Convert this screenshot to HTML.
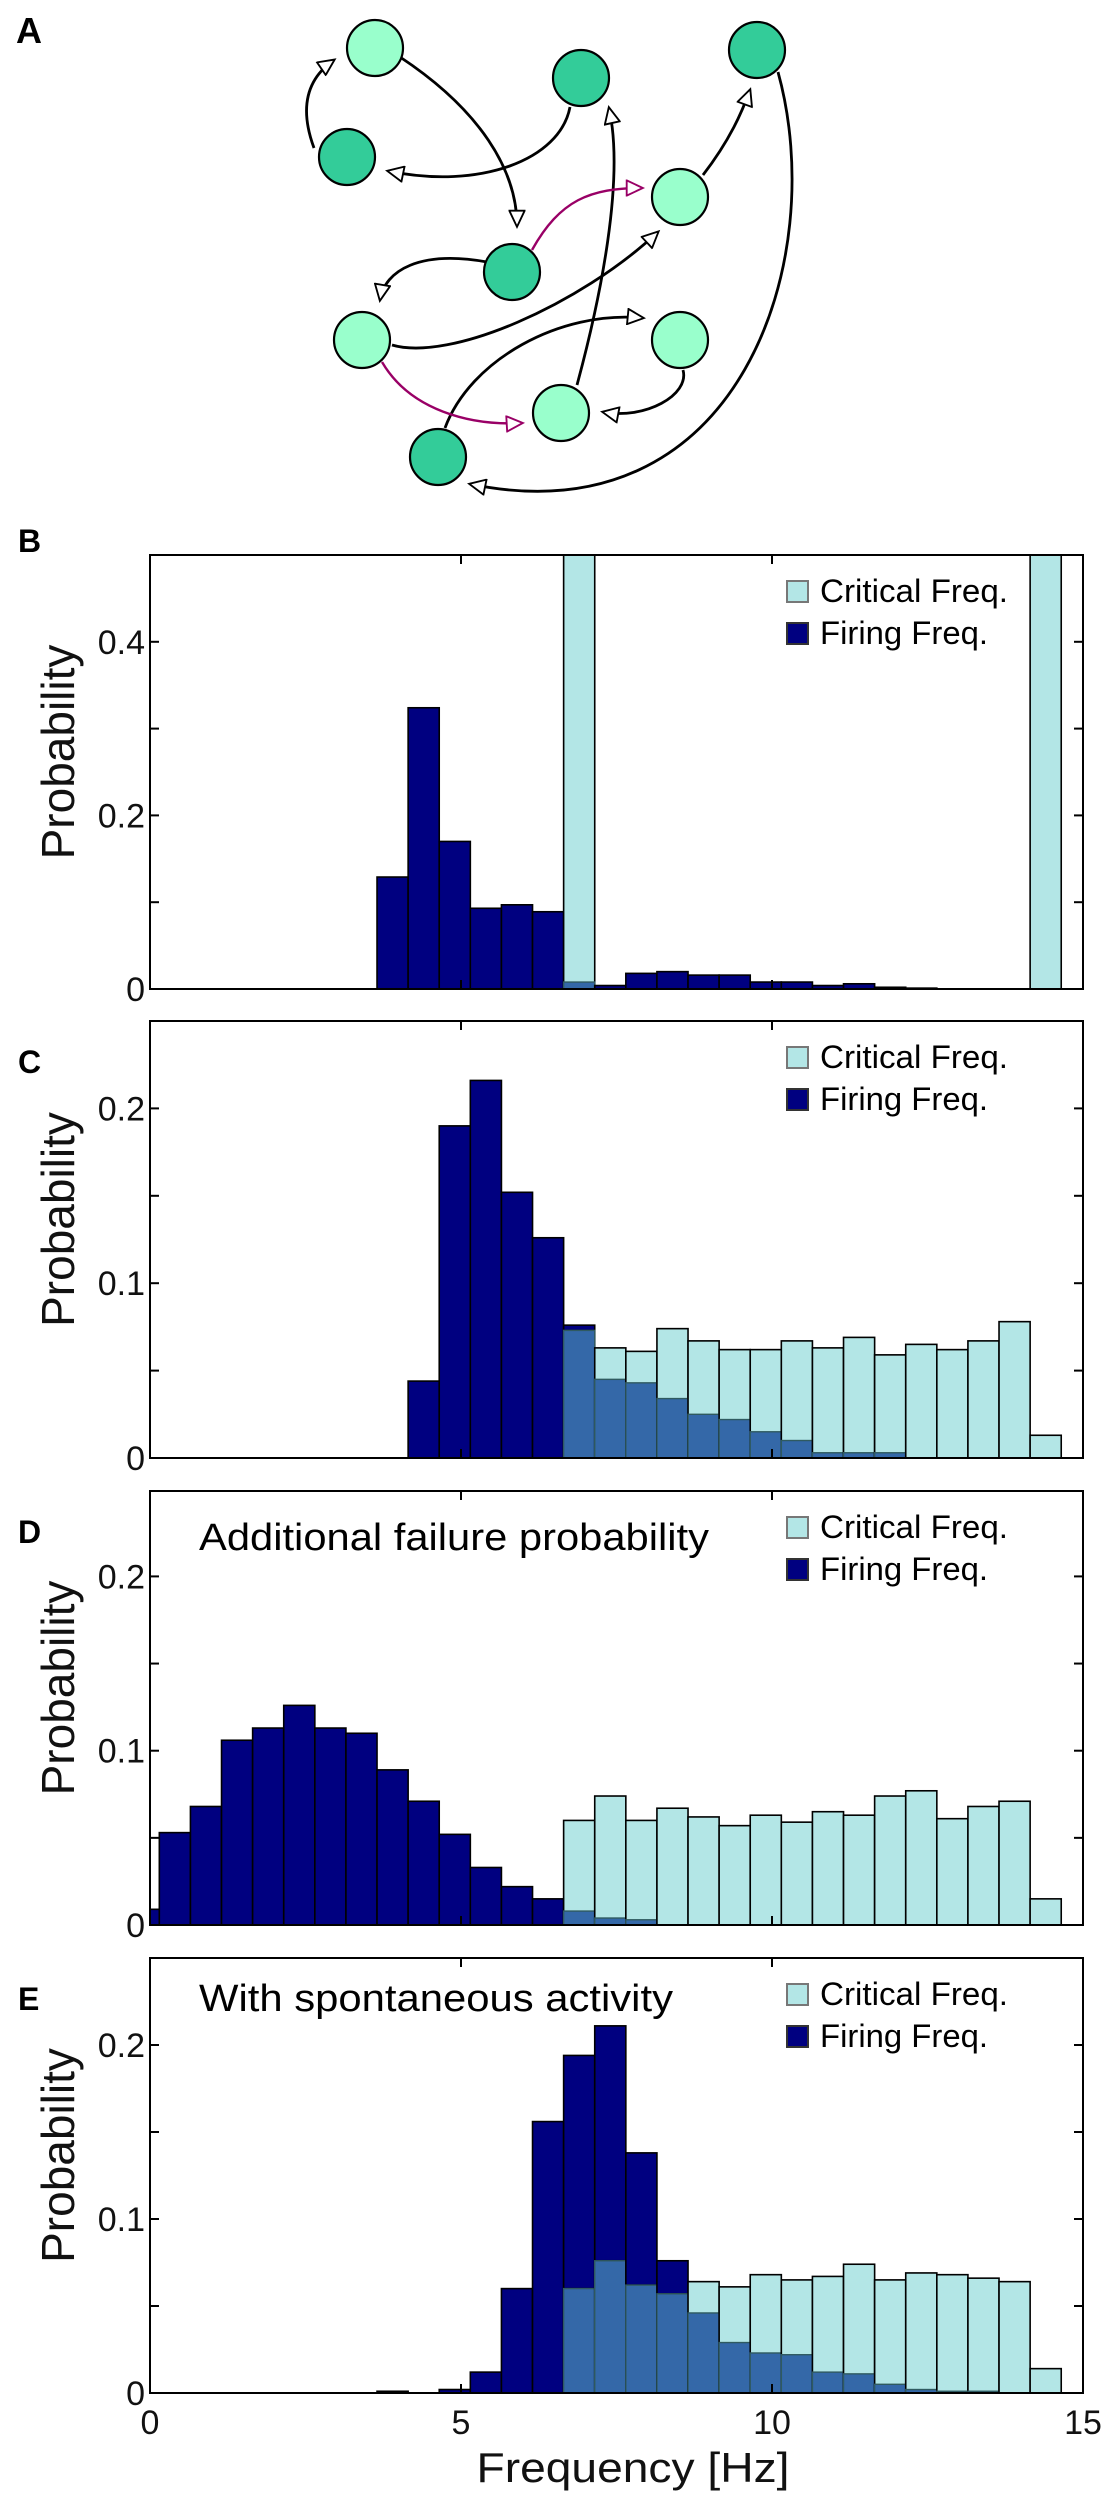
<!DOCTYPE html>
<html><head><meta charset="utf-8"><style>
html,body{margin:0;padding:0;background:#fff;}
svg{display:block;font-family:"Liberation Sans",Arial,sans-serif;}
</style></head><body>
<svg id="fig" width="1109" height="2500" viewBox="0 0 1109 2500" xmlns="http://www.w3.org/2000/svg">
<defs>
<marker id="arrK" viewBox="0 0 10 10" refX="9" refY="5" markerUnits="userSpaceOnUse" markerWidth="22" markerHeight="17" orient="auto"><path d="M0,0.5 L9.5,5 L0,9.5 z" fill="#fff" stroke="#000" stroke-width="1.1"/></marker>
<marker id="arrM" viewBox="0 0 10 10" refX="9" refY="5" markerUnits="userSpaceOnUse" markerWidth="22" markerHeight="17" orient="auto"><path d="M0,0.5 L9.5,5 L0,9.5 z" fill="#fff" stroke="#990066" stroke-width="1.1"/></marker>
</defs>
<g id="net">
<text x="16" y="43" font-size="36" font-weight="bold">A</text>
<g fill="none" stroke="#000" stroke-width="2.8">
<path d="M400 57 C480 110,517 170,517 226" marker-end="url(#arrK)"/>
<path d="M314 148 C300 110,305 80,334 60" marker-end="url(#arrK)"/>
<path d="M570 107 C560 160,480 190,388 171" marker-end="url(#arrK)"/>
<path d="M577 385 C600 300,625 180,609 108" marker-end="url(#arrK)"/>
<path d="M703 175 C730 140,742 112,750 90" marker-end="url(#arrK)"/>
<path d="M778 72 C830 260,740 540,470 484" marker-end="url(#arrK)"/>
<path d="M487 262 C420 250,385 270,380 300" marker-end="url(#arrK)"/>
<path d="M392 345 C450 362,580 305,658 232" marker-end="url(#arrK)"/>
<path d="M445 428 C470 360,560 310,643 318" marker-end="url(#arrK)"/>
<path d="M683 370 C690 395,645 420,603 412" marker-end="url(#arrK)"/>
</g>
<g fill="none" stroke="#990066" stroke-width="2.4">
<path d="M532 250 C560 200,590 188,642 188" marker-end="url(#arrM)"/>
<path d="M382 362 C410 410,470 426,522 423" marker-end="url(#arrM)"/>
</g>
<g stroke="#000" stroke-width="2.2">
<circle cx="375" cy="48" r="28" fill="#99ffcc"/>
<circle cx="581" cy="78" r="28" fill="#33cc99"/>
<circle cx="757" cy="50" r="28" fill="#33cc99"/>
<circle cx="347" cy="157" r="28" fill="#33cc99"/>
<circle cx="680" cy="197" r="28" fill="#99ffcc"/>
<circle cx="512" cy="272" r="28" fill="#33cc99"/>
<circle cx="362" cy="340" r="28" fill="#99ffcc"/>
<circle cx="680" cy="340" r="28" fill="#99ffcc"/>
<circle cx="561" cy="413" r="28" fill="#99ffcc"/>
<circle cx="438" cy="457" r="28" fill="#33cc99"/>
</g>
</g>
</svg>
<script>
// Bin k covers [-0.35+0.5k, 0.15+0.5k] Hz
const binStart = -0.35;
const binWidth = 0.5;
const firingB = [0,0,0,0,0,0,0,0,.129,.324,.170,.093,.097,.089,.008,.004,.018,.020,.016,.016,.008,.008,.004,.006,.002,.001,0,0,0,0];
const criticalB = [0,0,0,0,0,0,0,0,0,0,0,0,0,0,.55,0,0,0,0,0,0,0,0,0,0,0,0,0,0,.55];
const firingC = [0,0,0,0,0,0,0,0,0,.044,.190,.216,.152,.126,.076,.045,.043,.034,.025,.022,.015,.010,.003,.003,.003,0,0,0,0,0];
const criticalC = [0,0,0,0,0,0,0,0,0,0,0,0,0,0,.073,.063,.061,.074,.067,.062,.062,.067,.063,.069,.059,.065,.062,.067,.078,.013];
const firingD = [.009,.053,.068,.106,.113,.126,.113,.110,.089,.071,.052,.033,.022,.015,.008,.004,.003,0,0,0,0,0,0,0,0,0,0,0,0,0];
const criticalD = [0,0,0,0,0,0,0,0,0,0,0,0,0,0,.060,.074,.060,.067,.062,.057,.063,.059,.065,.063,.074,.077,.061,.068,.071,.015];
const firingE = [0,0,0,0,0,0,0,0,.001,0,.002,.012,.060,.156,.194,.211,.138,.076,.046,.029,.023,.022,.012,.011,.005,.002,.001,.001,0,0];
const criticalE = [0,0,0,0,0,0,0,0,0,0,0,0,0,0,.060,.076,.062,.057,.064,.061,.068,.065,.067,.074,.065,.069,.068,.066,.064,.014];
const xTicks = [0,5,10,15];
const yTicksB = [0,0.1,0.2,0.3,0.4];
const yLabelsB = ["0","","0.2","","0.4"];
const yTicksC = [0,0.05,0.1,0.15,0.2];
const yLabelsC = ["0","","0.1","","0.2"];
const legendLabels = ["Critical Freq.","Firing Freq."];

const NS = "http://www.w3.org/2000/svg";
const svg = document.getElementById("fig");
const X0 = 150, X1 = 1083, XMAX = 15;
function xs(v){ return X0 + (v / XMAX) * (X1 - X0); }
function mk(tag, attrs, parent){
  const e = document.createElementNS(NS, tag);
  for (const k in attrs) e.setAttribute(k, attrs[k]);
  parent.appendChild(e);
  return e;
}
const panels = [
  {id:"b", letter:"B", top:555, bottom:989, ymax:0.5, firing:firingB, critical:criticalB, yt:yTicksB, yl:yLabelsB, note:null},
  {id:"c", letter:"C", top:1021, bottom:1458, ymax:0.25, firing:firingC, critical:criticalC, yt:yTicksC, yl:yLabelsC, note:null},
  {id:"d", letter:"D", top:1491, bottom:1925, ymax:0.249, firing:firingD, critical:criticalD, yt:yTicksC, yl:yLabelsC, note:"Additional failure probability", noteW:510, noteY:59},
  {id:"e", letter:"E", top:1958, bottom:2393, ymax:0.25, firing:firingE, critical:criticalE, yt:yTicksC, yl:yLabelsC, note:"With spontaneous activity", noteW:474, noteY:53}
];
panels.forEach(function(p, pi){
  const g = mk("g", {}, svg);
  
  
  function ys(v){ return p.bottom - (v / p.ymax) * (p.bottom - p.top); }
  const cid = "clip" + p.id;
  const cp = mk("clipPath", {id: cid}, g);
  mk("rect", {x: X0, y: p.top, width: X1 - X0, height: p.bottom - p.top}, cp);
  const bars = mk("g", {"clip-path": "url(#" + cid + ")"}, g);
  
  
  for (let k = 0; k < p.firing.length; k++){
    const x0 = xs(Math.max(0, binStart + binWidth * k)), x1 = xs(binStart + binWidth * (k + 1));
    const f = p.firing[k], c = p.critical[k];
    if (f > 0){
      const r = mk("rect", {x: x0, y: ys(f), width: x1 - x0, height: ys(0) - ys(f), fill: "#000080", stroke: "#000", "stroke-width": 1.6}, bars);
      
      
    }
    if (c > 0){
      const r = mk("rect", {x: x0, y: ys(c), width: x1 - x0, height: ys(0) - ys(c), fill: "#b3e6e6", stroke: "#000", "stroke-width": 1.6}, bars);
      
      
      const m = Math.min(f, c);
      if (m > 0){
        const o = mk("rect", {x: x0, y: ys(m), width: x1 - x0, height: ys(0) - ys(m), fill: "#3468a8", stroke: "#2f5a60", "stroke-width": 1.4}, bars);
        
        
      }
    }
  }
  const frame = mk("rect", {x: X0, y: p.top, width: X1 - X0, height: p.bottom - p.top, fill: "none", stroke: "#000", "stroke-width": 2}, g);
  
  
  xTicks.forEach(function(t){
    const x = xs(t);
    mk("line", {x1: x, x2: x, y1: p.bottom, y2: p.bottom - 9, stroke: "#000", "stroke-width": 2}, g);
    mk("line", {x1: x, x2: x, y1: p.top, y2: p.top + 9, stroke: "#000", "stroke-width": 2}, g);
    if (pi === panels.length - 1){
      const tl = mk("text", {x: x, y: p.bottom + 41, "font-size": 34, "text-anchor": "middle", fill: "#111"}, g);
      tl.textContent = String(t);
      
      
    }
  });
  p.yt.forEach(function(t, i){
    const y = ys(t);
    mk("line", {x1: X0, x2: X0 + 9, y1: y, y2: y, stroke: "#000", "stroke-width": 2}, g);
    mk("line", {x1: X1, x2: X1 - 9, y1: y, y2: y, stroke: "#000", "stroke-width": 2}, g);
    if (p.yl[i]){
      const tl = mk("text", {x: 145, y: y + 12, "font-size": 34, "text-anchor": "end", fill: "#111"}, g);
      tl.textContent = p.yl[i];
      
      
    }
  });
  const cy = (p.top + p.bottom) / 2 - 20;
  const yl = mk("text", {x: 0, y: 0, "font-size": 46, "text-anchor": "middle", fill: "#111", transform: "translate(74," + cy + ") rotate(-90)"}, g);
  yl.textContent = "Probability";
  
  
  const lt = mk("text", {x: 18, y: p.top + (pi === 0 ? -3 : 52), "font-size": 32, "font-weight": "bold"}, g);
  lt.textContent = p.letter;
  
  
  if (p.note){
    const nt = mk("text", {x: 199, y: p.top + p.noteY, "font-size": 38, textLength: p.noteW, lengthAdjust: "spacingAndGlyphs", fill: "#000"}, g);
    nt.textContent = p.note;
    
    
  }
  const lg = mk("g", {}, g);
  
  
  const fills = ["#b3e6e6", "#000080"], strokes = ["#777", "#333"];
  legendLabels.forEach(function(lab, i){
    const yy = p.top + 26 + i * 42;
    const sw = mk("rect", {x: 787, y: yy, width: 21, height: 21, fill: fills[i], stroke: strokes[i], "stroke-width": 2}, lg);
    
    
    const tx = mk("text", {x: 820, y: yy + 21, "font-size": 32, fill: "#000", textLength: i === 0 ? 188 : 168, lengthAdjust: "spacingAndGlyphs"}, lg);
    tx.textContent = lab;
    
    
  });
});
const xt = mk("text", {x: 633, y: 2482, "font-size": 42, "text-anchor": "middle", textLength: 313, lengthAdjust: "spacingAndGlyphs", fill: "#111"}, svg);
xt.textContent = "Frequency [Hz]";


</script>
</body></html>
